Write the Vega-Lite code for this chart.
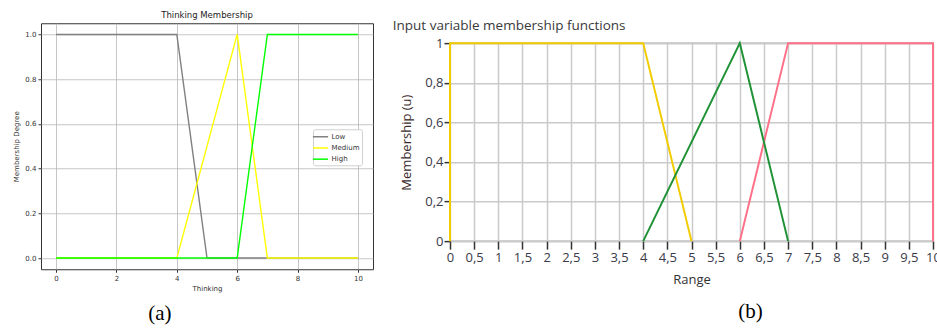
{
  "$schema": "https://vega.github.io/schema/vega-lite/v6.json",
  "background": "white",
  "padding": {"left": 12, "top": 10, "right": 0, "bottom": 0},
  "spacing": 18,
  "center": true,
  "resolve": {"scale": {"color": "independent"}},
  "config": {"view": {"stroke": null}},
  "datasets": {
    "thinking": [
      {"series": "Low", "x": 0, "y": 1},
      {"series": "Low", "x": 4, "y": 1},
      {"series": "Low", "x": 5, "y": 0},
      {"series": "Low", "x": 10, "y": 0},
      {"series": "Medium", "x": 0, "y": 0},
      {"series": "Medium", "x": 4, "y": 0},
      {"series": "Medium", "x": 6, "y": 1},
      {"series": "Medium", "x": 7, "y": 0},
      {"series": "Medium", "x": 10, "y": 0},
      {"series": "High", "x": 0, "y": 0},
      {"series": "High", "x": 6, "y": 0},
      {"series": "High", "x": 7, "y": 1},
      {"series": "High", "x": 10, "y": 1}
    ],
    "range": [
      {"series": "Low", "x": 0, "y": 0},
      {"series": "Low", "x": 0, "y": 1},
      {"series": "Low", "x": 4, "y": 1},
      {"series": "Low", "x": 5, "y": 0},
      {"series": "High", "x": 6, "y": 0},
      {"series": "High", "x": 7, "y": 1},
      {"series": "High", "x": 10, "y": 1},
      {"series": "High", "x": 10, "y": 0},
      {"series": "Medium", "x": 4, "y": 0},
      {"series": "Medium", "x": 6, "y": 1},
      {"series": "Medium", "x": 7, "y": 0}
    ]
  },
  "hconcat": [
    {
      "title": {"text": ["(a)", ""], "lineHeight": 18, "orient": "bottom", "anchor": "middle", "font": "Liberation Serif", "fontSize": 21, "fontWeight": "normal", "color": "#000", "offset": 11, "dx": -33},
      "vconcat": [
        {
          "width": 332,
          "height": 246,
          "title": {"text": "Thinking Membership", "font": "DejaVu Sans", "fontSize": 8.5, "fontWeight": "normal", "color": "#222", "offset": 4},
          "data": {"name": "thinking"},
          "view": {"stroke": "#333", "strokeWidth": 1, "fill": "white"},
          "mark": {"type": "line", "strokeWidth": 1.4},
          "encoding": {
            "x": {
              "field": "x", "type": "quantitative",
              "scale": {"domain": [-0.5, 10.5], "nice": false, "zero": false},
              "axis": {"title": "Thinking", "values": [0, 2, 4, 6, 8, 10], "format": "d", "labelFlush": false, "grid": true, "gridColor": "#b8b8b8", "gridWidth": 0.8, "domain": false, "tickSize": 3, "tickColor": "#333", "labelFont": "DejaVu Sans", "labelFontSize": 7, "labelColor": "#333", "labelPadding": 2, "titleFont": "DejaVu Sans", "titleFontSize": 7, "titleFontWeight": "normal", "titleColor": "#333", "titlePadding": 3}
            },
            "y": {
              "field": "y", "type": "quantitative",
              "scale": {"domain": [-0.05, 1.05], "nice": false, "zero": false},
              "axis": {"title": "Membership Degree", "values": [0, 0.2, 0.4, 0.6, 0.8, 1], "format": ".1f", "labelFlush": false, "grid": true, "gridColor": "#b8b8b8", "gridWidth": 0.8, "domain": false, "tickSize": 3, "tickColor": "#333", "labelFont": "DejaVu Sans", "labelFontSize": 7, "labelColor": "#333", "labelPadding": 2, "titleFont": "DejaVu Sans", "titleFontSize": 7, "titleFontWeight": "normal", "titleColor": "#333", "titlePadding": 5}
            },
            "color": {
              "field": "series", "type": "nominal",
              "scale": {"domain": ["Low", "Medium", "High"], "range": ["#808080", "#ffff00", "#00ff00"]},
              "legend": {"title": null, "orient": "none", "legendX": 272, "legendY": 106, "symbolType": "M-1.9,0H1.9", "symbolSize": 64, "symbolStrokeWidth": 1.5, "labelFont": "DejaVu Sans", "labelFontSize": 7, "labelColor": "#333", "labelOffset": 6, "rowPadding": 3.2, "padding": 2.5, "strokeColor": "#d0d0d0", "fillColor": "white", "cornerRadius": 2}
            },
            "order": {"value": null}
          }
        }
      ]
    },
    {
      "title": {"text": "(b)", "orient": "bottom", "anchor": "middle", "font": "Liberation Serif", "fontSize": 21, "fontWeight": "normal", "color": "#000", "offset": 14, "dx": 84},
      "vconcat": [
        {
          "width": 483,
          "height": 198,
          "title": {"text": "Input variable membership functions", "font": "Open Sans", "fontSize": 13.5, "fontWeight": "normal", "color": "#3a3a3a", "anchor": "start", "frame": "bounds", "dx": -8, "offset": 5},
          "data": {"name": "range"},
          "view": {"stroke": "#a0a0a0", "strokeWidth": 1.5, "fill": "white"},
          "mark": {"type": "line", "strokeWidth": 2},
          "encoding": {
            "x": {
              "field": "x", "type": "quantitative",
              "scale": {"domain": [0, 10], "nice": false, "zero": false},
              "axis": {"title": "Range", "values": [0, 0.5, 1, 1.5, 2, 2.5, 3, 3.5, 4, 4.5, 5, 5.5, 6, 6.5, 7, 7.5, 8, 8.5, 9, 9.5, 10], "labelExpr": "replace(toString(datum.value), '.', ',')", "labelOverlap": false, "labelFlush": false, "grid": true, "gridColor": "#cacaca", "gridWidth": 1.5, "domain": false, "tickSize": 8, "tickWidth": 1.5, "tickColor": "#333", "labelFont": "Open Sans", "labelFontSize": 13, "labelColor": "#3a3a48", "labelPadding": 2, "titleFont": "Open Sans", "titleFontSize": 13, "titleFontWeight": "normal", "titleColor": "#333", "titlePadding": 9}
            },
            "y": {
              "field": "y", "type": "quantitative",
              "scale": {"domain": [0, 1], "nice": false, "zero": false},
              "axis": {"title": "Membership (u)", "values": [0, 0.2, 0.4, 0.6, 0.8, 1], "labelExpr": "replace(toString(datum.value), '.', ',')", "labelFlush": false, "grid": true, "gridColor": "#cacaca", "gridWidth": 1.5, "domain": false, "tickSize": 6, "tickWidth": 1.5, "tickColor": "#333", "labelFont": "Open Sans", "labelFontSize": 13, "labelColor": "#3a3a48", "labelPadding": 1, "titleFont": "Open Sans", "titleFontSize": 13, "titleFontWeight": "normal", "titleColor": "#3a2a2a", "titlePadding": 11}
            },
            "color": {
              "field": "series", "type": "nominal",
              "scale": {"domain": ["Low", "Medium", "High"], "range": ["#f2cc00", "#1f9236", "#ff7089"]},
              "legend": null
            },
            "order": {"value": null}
          }
        }
      ]
    }
  ]
}
